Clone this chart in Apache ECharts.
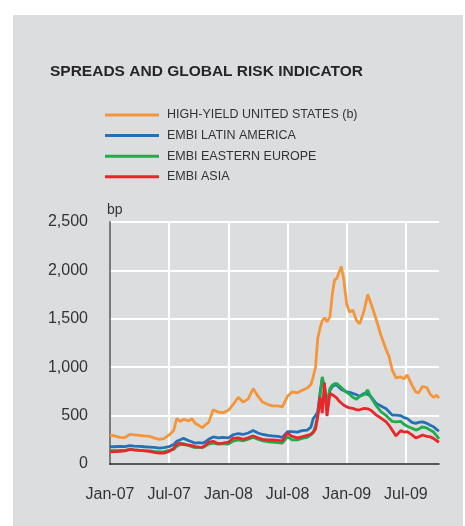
<!DOCTYPE html>
<html>
<head>
<meta charset="utf-8">
<script src="https://cdn.jsdelivr.net/npm/echarts@6/dist/echarts.min.js"></script>
<style>html,body{margin:0;padding:0;background:#fff}#c{width:465px;height:526px}</style>
</head>
<body>
<div id="c"></div>
<script>
var dates = ['2007-01-01','2007-01-15','2007-02-01','2007-02-15','2007-03-01','2007-03-15','2007-04-01','2007-04-15','2007-05-01','2007-05-15',
'2007-06-01','2007-06-15','2007-07-01','2007-07-15','2007-07-25','2007-08-05','2007-08-15','2007-09-01','2007-09-10','2007-09-20',
'2007-10-01','2007-10-12','2007-10-22','2007-11-01','2007-11-15','2007-12-01','2007-12-15','2008-01-01','2008-01-15','2008-02-01',
'2008-02-15','2008-03-01','2008-03-17','2008-04-01','2008-04-15','2008-05-01','2008-05-15','2008-06-01','2008-06-15','2008-07-01',
'2008-07-15','2008-08-01','2008-08-15','2008-09-01','2008-09-12','2008-09-19','2008-09-26','2008-10-03','2008-10-10','2008-10-17',
'2008-10-24','2008-11-01','2008-11-10','2008-11-17','2008-11-24','2008-12-01','2008-12-08','2008-12-15','2008-12-22','2009-01-01',
'2009-01-10','2009-01-20','2009-02-01','2009-02-10','2009-02-22','2009-03-05','2009-03-15','2009-04-01','2009-04-15','2009-05-01',
'2009-05-10','2009-05-20','2009-06-01','2009-06-15','2009-06-25','2009-07-05','2009-07-20','2009-08-01','2009-08-10','2009-08-22',
'2009-09-05','2009-09-15','2009-09-25','2009-10-05','2009-10-12'];

var highYieldUS = [300,290,275,272,305,300,295,290,285,270,
255,262,300,345,470,440,460,445,470,420,
400,375,405,430,560,535,530,555,610,690,
640,670,780,700,640,615,600,600,590,700,
745,735,760,785,820,900,1000,1300,1400,1480,
1510,1470,1520,1750,1900,1920,1980,2040,1920,1650,
1570,1590,1480,1450,1580,1750,1660,1490,1330,1180,
1110,970,890,900,880,920,815,745,735,800,
790,720,690,710,680];

var embiLatAm = [180,178,182,180,190,185,182,178,175,172,
165,170,180,200,235,250,265,240,230,215,
220,215,230,255,280,270,275,270,300,315,
305,320,345,320,305,295,290,285,275,335,
335,330,345,350,380,470,500,540,730,880,
780,590,760,800,815,815,790,770,760,745,
740,730,715,700,730,720,695,625,600,570,
540,505,505,500,480,470,430,420,430,435,
420,400,385,355,340];

var embiEastEurope = [140,138,140,140,150,145,140,138,135,130,
125,128,140,150,185,200,210,190,180,170,
175,170,185,205,215,205,210,205,235,250,
240,255,275,255,240,230,225,220,215,280,
250,250,265,275,300,320,400,500,700,900,
800,630,780,815,830,830,810,790,770,740,
720,690,670,700,715,765,690,600,540,500,
470,440,435,440,410,390,370,350,360,385,
370,350,330,290,260];

var embiAsia = [125,128,130,135,150,145,140,135,130,120,
112,112,130,160,205,215,200,195,190,180,
175,172,195,225,235,210,215,225,265,270,
255,270,290,270,255,250,248,245,240,320,
285,270,280,295,310,330,360,490,695,525,
840,495,730,715,700,680,650,630,610,590,
580,575,560,560,575,570,555,505,475,435,
400,350,290,345,330,335,300,270,280,300,
285,280,265,240,225];

var seriesNames = ['HIGH-YIELD UNITED STATES (b)','EMBI LATIN AMERICA','EMBI EASTERN EUROPE','EMBI ASIA'];
var seriesColors = ['#f5953a','#2371b9','#1fad4c','#e8262b'];
var xTickLabels = ['Jan-07','Jul-07','Jan-08','Jul-08','Jan-09','Jul-09'];
var yTickValues = [0,500,1000,1500,2000,2500];

function monthIndex(s){
  var p = s.split('-').map(Number);
  var dim = new Date(Date.UTC(p[0], p[1], 0)).getUTCDate();
  return (p[0]-2007)*12 + (p[1]-1) + (p[2]-1)/dim;
}
var xs = dates.map(monthIndex);
function pairs(vals){ return vals.map(function(v,i){ return [xs[i], v]; }); }
var allVals = [highYieldUS, embiLatAm, embiEastEurope, embiAsia];

var FONT = 'Liberation Sans, Arial, Helvetica, sans-serif';
var chart = echarts.init(document.getElementById('c'), null, {renderer:'canvas'});
chart.setOption({
  animation: false,
  backgroundColor: '#ffffff',
  textStyle: {fontFamily: FONT},
  graphic: [
    {type:'rect', z:-100, shape:{x:13, y:15, width:450, height:511}, style:{fill:'#dcdddf'}, silent:true},
    {type:'text', left:50, top:64, style:{text:'SPREADS AND GLOBAL RISK INDICATOR', font:'bold 15.5px ' + FONT, fill:'#262626'}},
    {type:'text', left:107, top:203, style:{text:'bp', font:'14px ' + FONT, fill:'#333'}}
  ],
  legend: {
    orient: 'vertical', left: 100, top: 103,
    icon: 'rect', itemWidth: 54, itemHeight: 3, itemGap: 6.6,
    textStyle: {fontSize: 12.5, color: '#333', fontFamily: FONT, padding:[0,0,0,3], lineHeight: 14},
    data: seriesNames
  },
  grid: {left:110, right:26, top:222, bottom:62, containLabel:false, outerBoundsMode:'none'},
  xAxis: {
    type: 'value', min: 0, max: monthIndex(dates[dates.length-1]), interval: 6,
    axisLine: {show:true, lineStyle:{color:'#222', width:1.5}},
    axisTick: {show:false},
    splitLine: {show:true, showMinLine:false, showMaxLine:false, lineStyle:{color:'#ffffff', width:2}},
    axisLabel: {
      fontSize: 16, color: '#333', margin: 23, showMaxLabel:false,
      formatter: function(v){ var k = v/6; return Math.abs(k-Math.round(k))<1e-6 ? (xTickLabels[Math.round(k)]||'') : ''; }
    }
  },
  yAxis: {
    type: 'value', min: yTickValues[0], max: yTickValues[yTickValues.length-1], interval: 500,
    axisLine: {show:true, lineStyle:{color:'#7a7a7a', width:2}},
    axisTick: {show:false},
    splitLine: {show:true, lineStyle:{color:'#ffffff', width:2}},
    axisLabel: {fontSize:16, color:'#333', margin:22, formatter: function(v){ return v.toLocaleString('en-US'); }}
  },
  series: seriesNames.map(function(n,i){
    return {
      name: n, type:'line', data: pairs(allVals[i]), showSymbol:false, symbol:'none',
      lineStyle:{color:seriesColors[i], width:2.8}, itemStyle:{color:seriesColors[i]}, z: 3+i
    };
  })
});
</script>
</body>
</html>
